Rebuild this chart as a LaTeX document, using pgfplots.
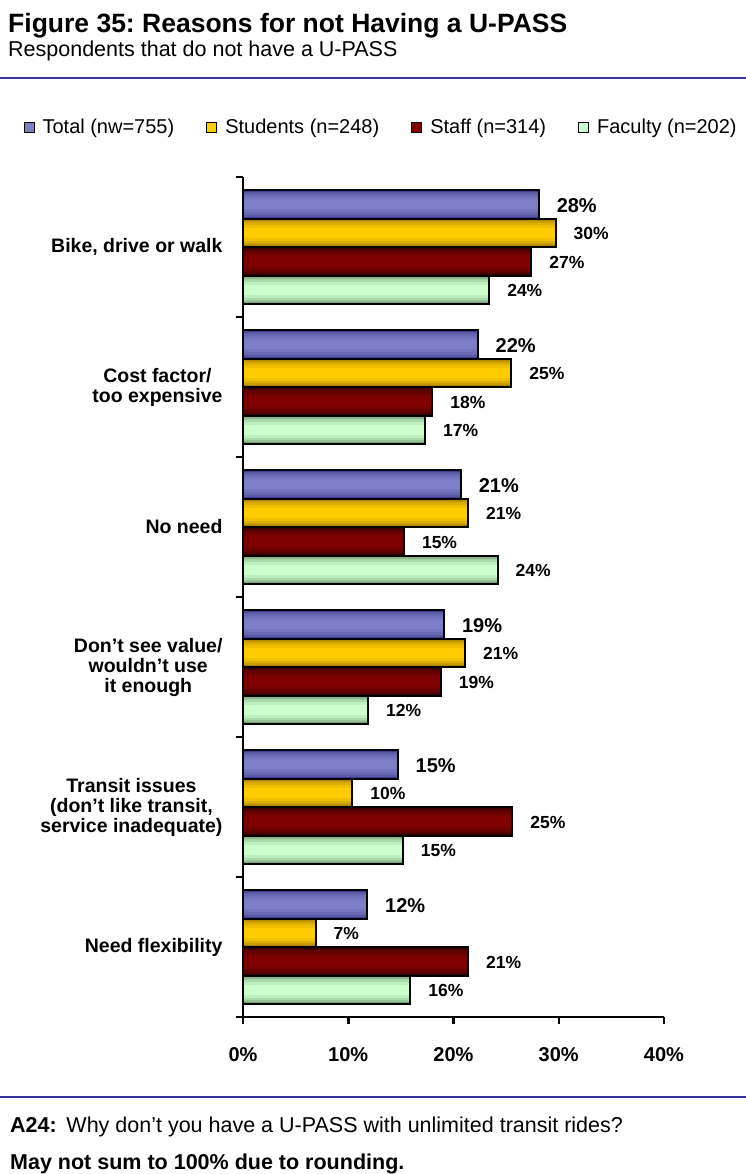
\documentclass[border=0pt]{standalone}
\usepackage{pgfplots}
\pgfplotsset{compat=1.18}
\usepackage{pgfplotstable}
\usepackage{fontspec}
\setmainfont{Liberation Sans}
\frenchspacing

\definecolor{lineblue}{RGB}{51,51,153}
\definecolor{bluemid}{RGB}{126,126,198}
\definecolor{blueedge}{RGB}{62,62,145}
\definecolor{yelmid}{RGB}{255,204,0}
\definecolor{yeledge}{RGB}{155,118,0}
\definecolor{redmid}{RGB}{128,0,0}
\definecolor{rededge}{RGB}{50,0,0}
\definecolor{grnmid}{RGB}{204,255,204}
\definecolor{grnedge}{RGB}{108,146,108}

\pgfplotstableread{
x y lab
28.1 5 28
22.3 4 22
20.7 3 21
19.1 2 19
14.7 1 15
11.8 0 12
}\tabTotal
\pgfplotstableread{
x y lab
29.7 5 30
25.5 4 25
21.4 3 21
21.1 2 21
10.4 1 10
6.9 0 7
}\tabStudents
\pgfplotstableread{
x y lab
27.4 5 27
18.0 4 18
15.3 3 15
18.8 2 19
25.6 1 25
21.4 0 21
}\tabStaff
\pgfplotstableread{
x y lab
23.4 5 24
17.3 4 17
24.2 3 24
11.9 2 12
15.2 1 15
15.9 0 16
}\tabFaculty

% shaded look: filled layers of the same bars, narrower and lighter towards the middle
\newcommand{\shadedbars}[4]{%
  \addplot[forget plot, xbar, bar shift=#2, bar width=28.5pt, draw=none, fill=#3] table[x=x, y=y, meta=lab] {#1};
  \addplot[forget plot, xbar, bar shift=#2, bar width=25pt, draw=none, fill=#4!40!#3] table[x=x, y=y, meta=lab] {#1};
  \addplot[forget plot, xbar, bar shift=#2, bar width=21pt, draw=none, fill=#4!65!#3] table[x=x, y=y, meta=lab] {#1};
  \addplot[forget plot, xbar, bar shift=#2, bar width=16pt, draw=none, fill=#4!85!#3] table[x=x, y=y, meta=lab] {#1};
  \addplot[forget plot, xbar, bar shift=#2, bar width=10pt, draw=none, fill=#4] table[x=x, y=y, meta=lab] {#1};
}

\begin{document}
\begin{tikzpicture}[x=1pt,y=1pt]
\path[use as bounding box] (0,0) rectangle (746,-1174);
\node[anchor=base west, inner sep=0pt, font=\bfseries\fontsize{26.5}{30}\selectfont] at (8,-33) {Figure 35: Reasons for not Having a U-PASS};
\node[anchor=base west, inner sep=0pt, font=\fontsize{21.5}{24}\selectfont] at (8,-57) {Respondents that do not have a U-PASS};
\draw[color=lineblue, line width=2pt] (0,-78) -- (746,-78);

\begin{axis}[
  at={(243pt,-1017pt)}, anchor=south west,
  scale only axis, width=421pt, height=840pt,
  xbar, bar width=28.5pt,
  xmin=0, xmax=40, ymin=-0.5, ymax=5.5,
  clip=false,
  axis x line=bottom, axis y line=left,
  axis line style={-, line width=2.5pt, black},
  tick align=outside, major tick length=7pt,
  tick style={line width=2.5pt, black},
  xtick={0,10,20,30,40},
  xticklabels={0\%,10\%,20\%,30\%,40\%},
  xticklabel style={font=\bfseries\fontsize{20}{24}\selectfont, yshift=-20pt},
  ytick={-0.5,0.5,1.5,2.5,3.5,4.5,5.5},
  yticklabels={},
  extra y ticks={0,1,2,3,4,5},
  extra y tick labels={Need flexibility, {Transit issues\\(don't like transit,\\service inadequate)}, {Don't see value/\\wouldn't use\\it enough}, No need, {Cost factor/\\too expensive}, {Bike, drive or walk}},
  extra y tick style={major tick length=0pt, tick style={draw=none},
    yticklabel style={align=center, font=\bfseries\fontsize{19.5}{20}\selectfont, xshift=-17pt}},
  point meta=explicit symbolic,
  legend columns=4,
  legend style={at={(0.328,1.0595)}, anchor=center, draw=none, fill=none, inner sep=0pt,
    font=\fontsize{20}{24}\selectfont, cells={anchor=west},
    /tikz/every odd column/.append style={column sep=6pt},
    /tikz/every even column/.append style={column sep=30pt}},
]
\shadedbars{\tabTotal}{42.75pt}{blueedge}{bluemid}
\addplot[xbar, bar shift=42.75pt, draw=black, line width=2pt, fill=none,
  nodes near coords={\pgfplotspointmeta\%},
  every node near coord/.append style={font=\bfseries\fontsize{20}{22}\selectfont, anchor=west, inner sep=0pt, xshift=17pt, yshift=-1pt, black},
  legend image code/.code={\draw[draw=black, line width=1pt, fill=bluemid] (0pt,-5pt) rectangle (10pt,5pt);}]
  table[x=x, y=y, meta=lab] {\tabTotal};
\addlegendentry{Total (nw=755)}
\shadedbars{\tabStudents}{14.25pt}{yeledge}{yelmid}
\addplot[xbar, bar shift=14.25pt, draw=black, line width=2pt, fill=none,
  nodes near coords={\pgfplotspointmeta\%},
  every node near coord/.append style={font=\bfseries\fontsize{17.5}{20}\selectfont, anchor=west, inner sep=0pt, xshift=17pt, yshift=-1pt, black},
  legend image code/.code={\draw[draw=black, line width=1pt, fill=yelmid] (0pt,-5pt) rectangle (10pt,5pt);}]
  table[x=x, y=y, meta=lab] {\tabStudents};
\addlegendentry{Students (n=248)}
\shadedbars{\tabStaff}{-14.25pt}{rededge}{redmid}
\addplot[xbar, bar shift=-14.25pt, draw=black, line width=2pt, fill=none,
  nodes near coords={\pgfplotspointmeta\%},
  every node near coord/.append style={font=\bfseries\fontsize{17.5}{20}\selectfont, anchor=west, inner sep=0pt, xshift=17pt, yshift=-1pt, black},
  legend image code/.code={\draw[draw=black, line width=1pt, fill=redmid] (0pt,-5pt) rectangle (10pt,5pt);}]
  table[x=x, y=y, meta=lab] {\tabStaff};
\addlegendentry{Staff (n=314)}
\shadedbars{\tabFaculty}{-42.75pt}{grnedge}{grnmid}
\addplot[xbar, bar shift=-42.75pt, draw=black, line width=2pt, fill=none,
  nodes near coords={\pgfplotspointmeta\%},
  every node near coord/.append style={font=\bfseries\fontsize{17.5}{20}\selectfont, anchor=west, inner sep=0pt, xshift=17pt, yshift=-1pt, black},
  legend image code/.code={\draw[draw=black, line width=1pt, fill=grnmid] (0pt,-5pt) rectangle (10pt,5pt);}]
  table[x=x, y=y, meta=lab] {\tabFaculty};
\addlegendentry{Faculty (n=202)}
\end{axis}

\draw[color=lineblue, line width=2pt] (0,-1097) -- (746,-1097);
\node[anchor=base west, inner sep=0pt, font=\fontsize{21.5}{24}\selectfont] at (10,-1132) {\textbf{A24:}\hspace{0.45em}Why don’t you have a U-PASS with unlimited transit rides?};
\node[anchor=base west, inner sep=0pt, font=\bfseries\fontsize{21.5}{24}\selectfont] at (10,-1169) {May not sum to 100\% due to rounding.};
\end{tikzpicture}
\end{document}
